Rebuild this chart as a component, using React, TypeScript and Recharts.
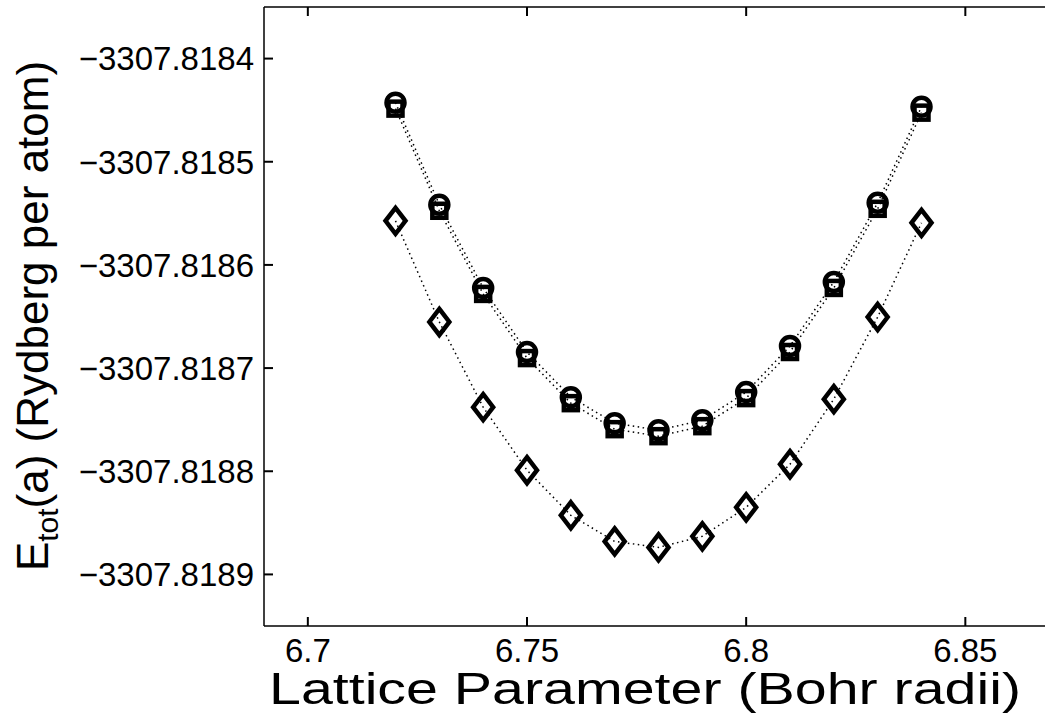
import React from "react";
import { LineChart, Line, XAxis, YAxis, Label } from "recharts";

// lattice parameter a (Bohr radii)
const latticeA = [6.72, 6.73, 6.74, 6.75, 6.76, 6.77, 6.78, 6.79, 6.8, 6.81, 6.82, 6.83, 6.84];

// total energy per atom (Rydberg) for the three runs
const circleE = [
  -3307.8184427, -3307.8185417, -3307.8186223, -3307.8186845, -3307.8187282, -3307.8187534,
  -3307.8187602, -3307.8187505, -3307.8187233, -3307.8186786, -3307.8186165, -3307.8185398,
  -3307.8184466,
];
const squareE = [
  -3307.8184485, -3307.8185475, -3307.8186281, -3307.8186903, -3307.818734, -3307.8187592,
  -3307.818766, -3307.8187563, -3307.8187291, -3307.8186844, -3307.8186223, -3307.8185456,
  -3307.8184524,
];
const diamondE = [
  -3307.8185573, -3307.8186553, -3307.8187379, -3307.818799, -3307.8188427, -3307.818868,
  -3307.8188738, -3307.8188631, -3307.818835, -3307.8187932, -3307.8187301, -3307.8186505,
  -3307.8185592,
];

const xTicks = [6.7, 6.75, 6.8, 6.85];
const yTicks = [-3307.8189, -3307.8188, -3307.8187, -3307.8186, -3307.8185, -3307.8184];

const rows = latticeA.map((a, i) => ({
  a,
  circle: circleE[i],
  square: squareE[i],
  diamond: diamondE[i],
}));

const FONT = "'Liberation Sans', Arial, Helvetica, sans-serif";
const INK = "#000";
const TICK_LEN = 9;

const fmtY = (v: number) => v.toFixed(4).replace("-", "\u2212");
const fmtX = (v: number) => String(Number(v.toFixed(2)));

// inward ticks, matlab style
const LeftTick = (p: any) => (
  <g>
    <line x1={p.x} y1={p.y} x2={p.x + TICK_LEN} y2={p.y} stroke={INK} strokeWidth={2} />
    <text x={p.x - 10} y={p.y} dy="0.36em" textAnchor="end" fontFamily={FONT} fontSize={33} fill={INK}>
      {fmtY(p.payload.value)}
    </text>
  </g>
);
const BottomTick = (p: any) => (
  <g>
    <line x1={p.x} y1={p.y} x2={p.x} y2={p.y - TICK_LEN} stroke={INK} strokeWidth={2} />
    <text x={p.x} y={p.y + 36} textAnchor="middle" fontFamily={FONT} fontSize={33} fill={INK}>
      {fmtX(p.payload.value)}
    </text>
  </g>
);
const TopTick = (p: any) => (
  <line x1={p.x} y1={p.y} x2={p.x} y2={p.y + TICK_LEN} stroke={INK} strokeWidth={2} />
);

// marker renderers
const circleDot = (p: any) => (
  <circle key={`c-${p.index}`} cx={p.cx} cy={p.cy} r={9} fill="none" stroke={INK} strokeWidth={4.5} />
);
const squareDot = (p: any) => (
  <rect
    key={`s-${p.index}`}
    x={p.cx - 7}
    y={p.cy - 7}
    width={14}
    height={14}
    fill="none"
    stroke={INK}
    strokeWidth={4.5}
  />
);
const diamondDot = (p: any) => (
  <path
    key={`d-${p.index}`}
    d={`M${p.cx},${p.cy - 13} L${p.cx + 10},${p.cy} L${p.cx},${p.cy + 13} L${p.cx - 10},${p.cy} Z`}
    fill="none"
    stroke={INK}
    strokeWidth={4.5}
  />
);

const YTitle = () => (
  <text
    x={48}
    y={316}
    transform="rotate(-90, 48, 316)"
    textAnchor="middle"
    fontFamily={FONT}
    fontSize={44}
    fill={INK}
  >
    <tspan>E</tspan>
    <tspan dy={10} fontSize={30}>tot</tspan>
    <tspan dy={-10}>(a) (Rydberg per atom)</tspan>
  </text>
);

const XTitle = () => (
  <text
    x={645}
    y={704}
    textAnchor="middle"
    fontFamily={FONT}
    fontSize={44}
    textLength={752}
    lengthAdjust="spacingAndGlyphs"
    fill={INK}
  >
    Lattice Parameter (Bohr radii)
  </text>
);

const lineStyle = { stroke: INK, strokeWidth: 1.5, strokeDasharray: "1.5 3.5" };
const axisLineStyle = { stroke: INK, strokeWidth: 1.5 };

export default function App() {
  return (
    <div
      style={{
        position: "absolute",
        left: 0,
        top: 0,
        width: 1045,
        height: 713,
        overflow: "hidden",
        background: "#fff",
      }}
    >
      <LineChart width={1053} height={713} data={rows} margin={{ top: 6, right: 0, bottom: 0, left: 0 }}>
        <XAxis
          xAxisId="top"
          orientation="top"
          dataKey="a"
          type="number"
          domain={[6.69, 6.87]}
          ticks={xTicks}
          height={1}
          tickSize={0}
          tickMargin={0}
          tick={TopTick}
          tickLine={false}
          axisLine={axisLineStyle}
          allowDataOverflow
        />
        <XAxis
          dataKey="a"
          type="number"
          domain={[6.69, 6.87]}
          ticks={xTicks}
          height={87}
          tickSize={0}
          tickMargin={0}
          tick={BottomTick}
          tickLine={false}
          axisLine={axisLineStyle}
          allowDataOverflow
        >
          <Label content={XTitle} />
        </XAxis>
        <YAxis
          type="number"
          domain={[-3307.81895, -3307.81835]}
          ticks={yTicks}
          width={264}
          tickSize={0}
          tickMargin={0}
          tick={LeftTick}
          tickLine={false}
          axisLine={axisLineStyle}
          allowDataOverflow
        >
          <Label content={YTitle} />
        </YAxis>
        <Line
          xAxisId={0}
          dataKey="circle"
          {...lineStyle}
          dot={circleDot}
          activeDot={false}
          isAnimationActive={false}
        />
        <Line
          xAxisId={0}
          dataKey="square"
          {...lineStyle}
          dot={squareDot}
          activeDot={false}
          isAnimationActive={false}
        />
        <Line
          xAxisId={0}
          dataKey="diamond"
          {...lineStyle}
          dot={diamondDot}
          activeDot={false}
          isAnimationActive={false}
        />
      </LineChart>
    </div>
  );
}
